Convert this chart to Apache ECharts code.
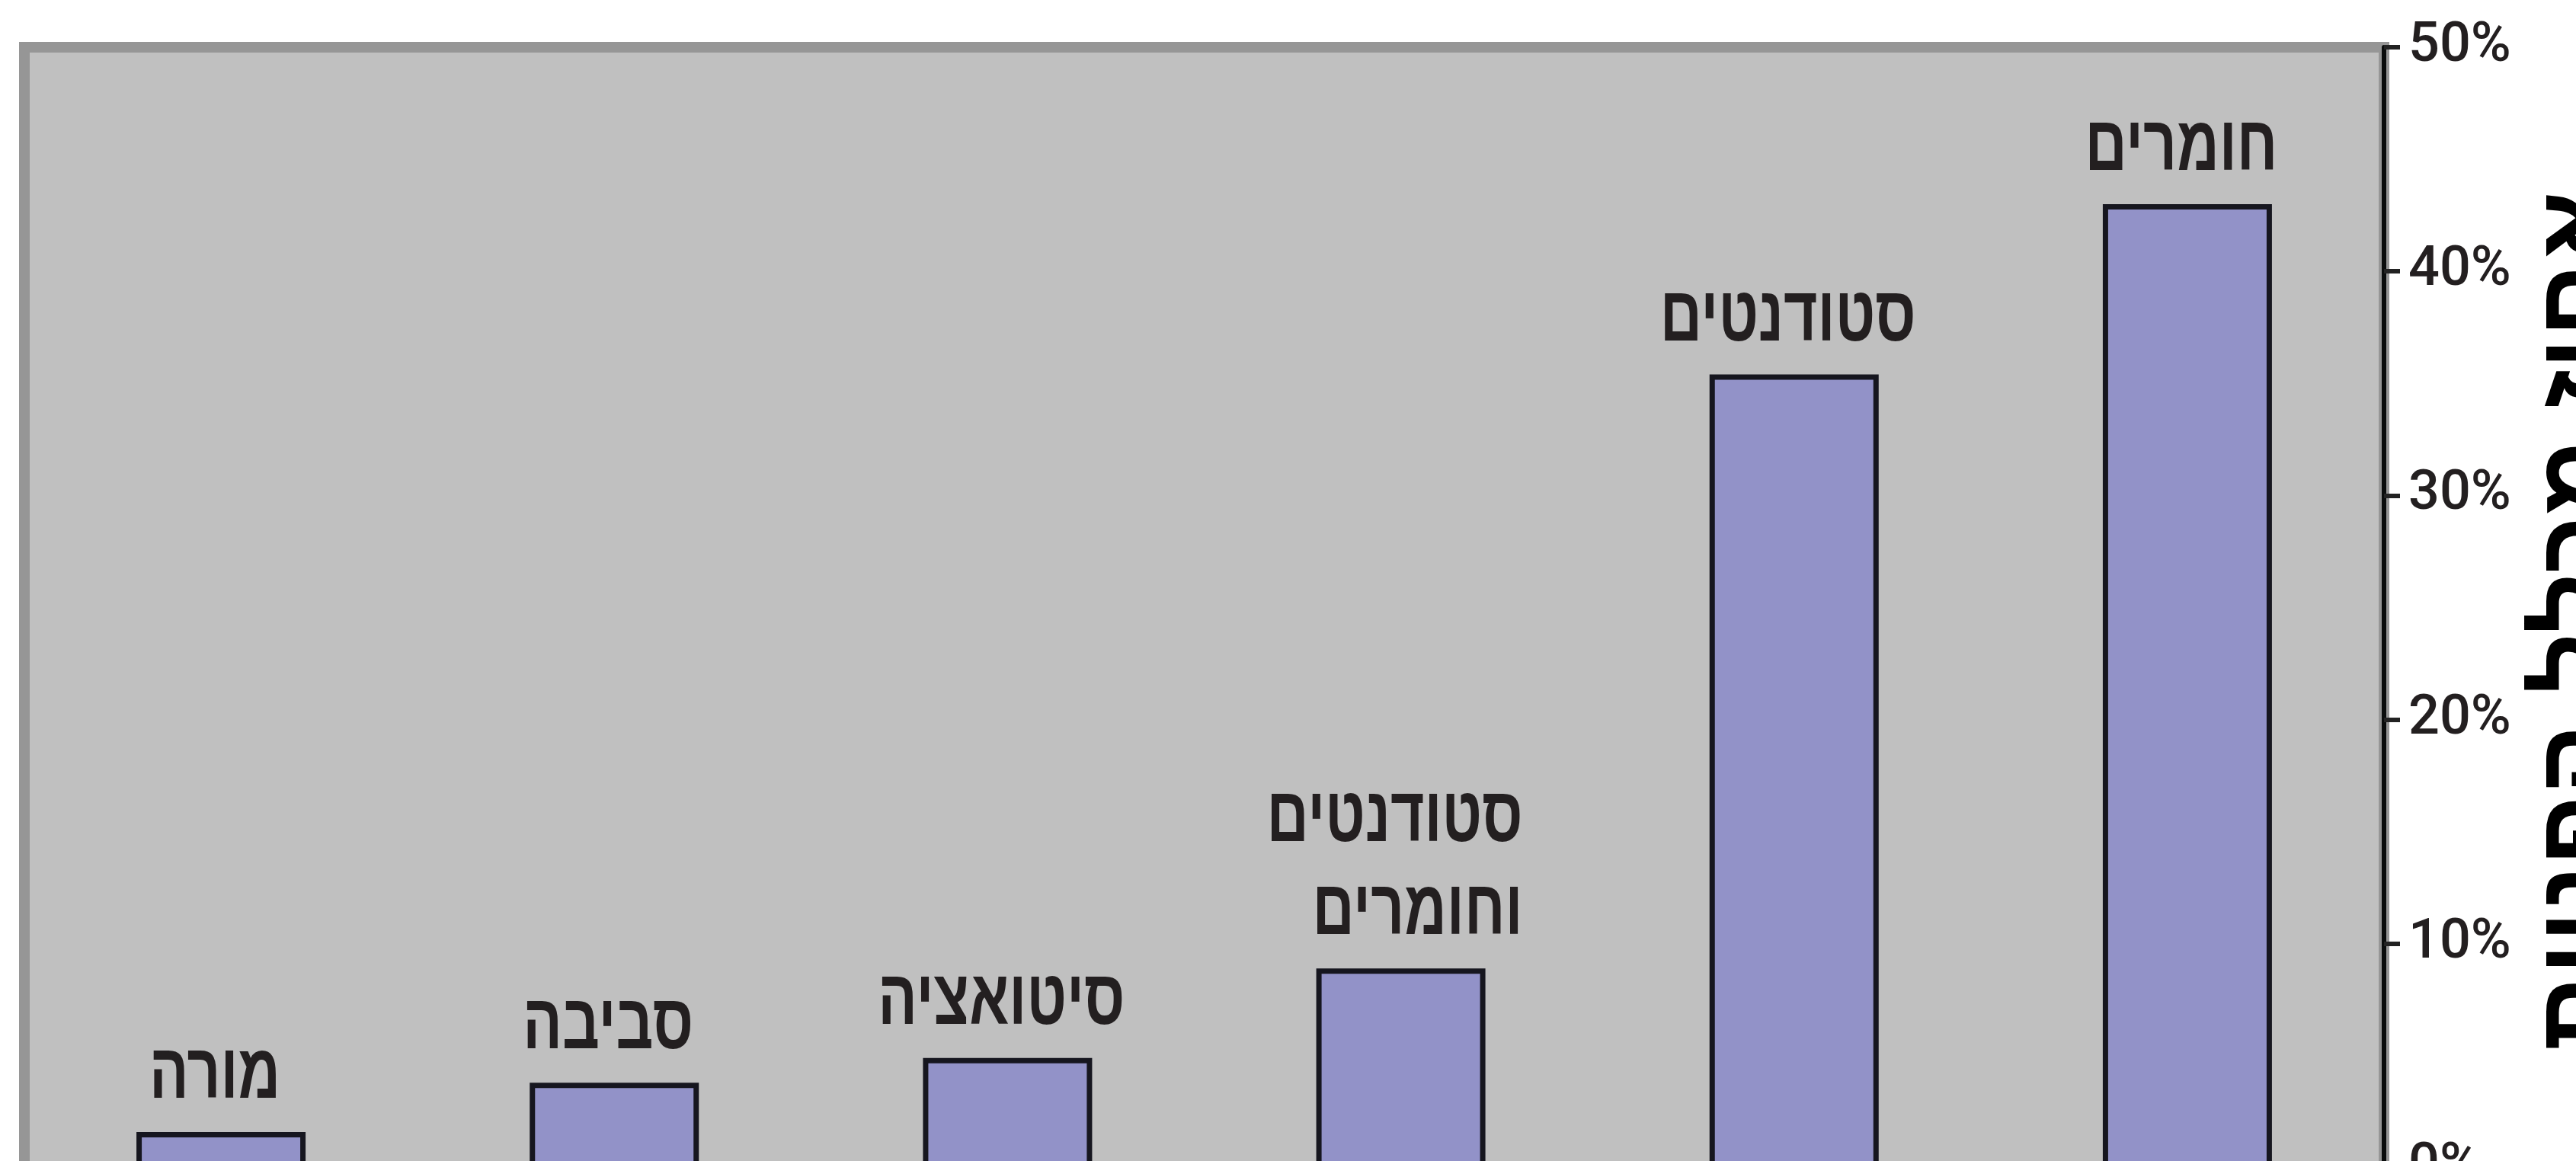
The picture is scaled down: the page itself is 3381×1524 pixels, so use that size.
<!DOCTYPE html>
<html>
<head>
<meta charset="utf-8">
<script src="https://cdn.jsdelivr.net/npm/echarts@6/dist/echarts.min.js"></script>
<style>
html,body{margin:0;padding:0;background:#fff;}
#chart{width:3381px;height:1524px;}
</style>
</head>
<body>
<div id="chart"></div>
<script>
// ---- data ----
const categories = ['מורה', 'סביבה', 'סיטואציה', 'סטודנטים\nוחומרים', 'סטודנטים', 'חומרים'];
const values = [1.6, 3.8, 4.9, 8.9, 35.4, 43.0];
const yTicks = [0, 10, 20, 30, 40, 50];
const axisTitle = 'אחוז מכלל הפניות';

// ---- styles ----
const TEXT = '#231f20';
const LABEL_FONT_SIZE = 102;
const LABEL_FONT = 'bold ' + LABEL_FONT_SIZE + 'px "Liberation Sans", Arial, sans-serif';
const LABEL_SCALE_X = 0.75;
const LABEL_GAP = 12;

const measureCtx = document.createElement('canvas').getContext('2d');

const chart = echarts.init(document.getElementById('chart'), null, {renderer: 'canvas'});

function renderLabel(params, api) {
  const p = api.coord([api.value(0), api.value(1)]);
  const text = categories[params.dataIndex];
  const lines = text.split('\n');
  measureCtx.font = LABEL_FONT;
  let w = 0;
  lines.forEach(l => { w = Math.max(w, measureCtx.measureText(l).width); });
  w *= LABEL_SCALE_X;
  return {
    type: 'text',
    x: p[0] + w / 2 - 8,
    y: p[1] - LABEL_GAP,
    scaleX: LABEL_SCALE_X,
    style: {
      text: text,
      font: LABEL_FONT,
      fill: TEXT,
      align: 'right',
      verticalAlign: 'bottom',
      lineHeight: 122
    }
  };
}

const option = {
  backgroundColor: '#ffffff',
  animation: false,
  grid: {
    left: 32, right: 252, top: 62, height: 1471,
    containLabel: false,
    outerBoundsMode: 'none',
    show: true,
    backgroundColor: '#c0c0c0',
    borderColor: '#969696',
    borderWidth: 14
  },
  xAxis: {
    type: 'category',
    data: categories,
    axisLine: {show: false},
    axisTick: {show: false},
    axisLabel: {show: false},
    splitLine: {show: false}
  },
  yAxis: {
    type: 'value',
    position: 'right',
    min: yTicks[0],
    max: yTicks[yTicks.length - 1],
    interval: 10,
    axisLine: {show: true, lineStyle: {color: '#0a0c0c', width: 6}},
    axisTick: {show: true, length: 21, lineStyle: {color: '#222', width: 6}},
    splitLine: {show: false},
    axisLabel: {
      margin: 32,
      formatter: '{value}%',
      color: TEXT,
      fontFamily: 'Roboto',
      fontWeight: 500,
      fontSize: 72
    }
  },
  graphic: [{
    type: 'text',
    x: 3318,
    y: 815,
    rotation: Math.PI / 2,
    style: {
      text: axisTitle,
      font: 'bold 140px "Liberation Sans", Arial, sans-serif',
      fill: '#000',
      align: 'center',
      verticalAlign: 'top'
    }
  }],
  series: [{
    type: 'bar',
    data: values,
    barWidth: 222,
    itemStyle: {
      color: '#9292c8',
      borderColor: '#16161f',
      borderWidth: 7
    }
  }, {
    type: 'custom',
    renderItem: renderLabel,
    data: values.map((v, i) => [i, v]),
    encode: {x: 0, y: 1},
    z: 10
  }]
};
chart.setOption(option);
</script>
</body>
</html>
